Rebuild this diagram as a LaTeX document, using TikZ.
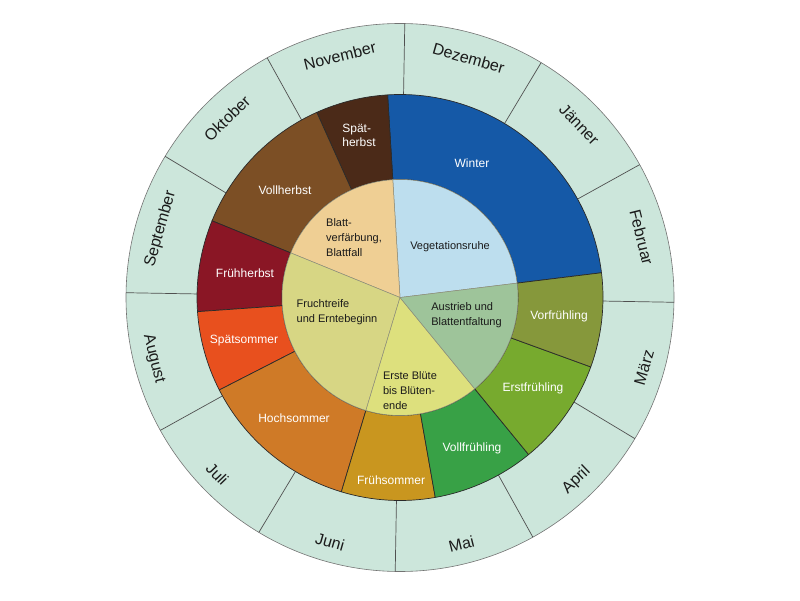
\documentclass[tikz,border=0pt]{standalone}
\usepackage{fontspec}
\setmainfont{Liberation Sans}
\definecolor{mint}{HTML}{CCE6DB}
\definecolor{cwinter}{HTML}{1559A7}
\definecolor{cvegruhe}{HTML}{BDDEEE}
\definecolor{cvorfr}{HTML}{86983B}
\definecolor{cerstfr}{HTML}{77AA2E}
\definecolor{cvollfr}{HTML}{38A146}
\definecolor{caustrieb}{HTML}{9EC49A}
\definecolor{cbluete}{HTML}{DDE07D}
\definecolor{cfruehso}{HTML}{C9961F}
\definecolor{chochso}{HTML}{CF7A27}
\definecolor{cspaetso}{HTML}{E8501E}
\definecolor{cfruehhe}{HTML}{8A1625}
\definecolor{cvollhe}{HTML}{7C4F25}
\definecolor{cspaethe}{HTML}{4B2A18}
\definecolor{cblatt}{HTML}{EFCF94}
\definecolor{cfrucht}{HTML}{D7D684}
\definecolor{txt}{HTML}{1A1A1A}
\definecolor{segline}{HTML}{2A2A2A}
\definecolor{inline}{HTML}{8C8C7A}
\definecolor{mline}{HTML}{505050}
\newcommand{\ringseg}[5]{\filldraw[#1] (#2:#4pt) arc[start angle=#2, end angle=#3, radius=#4pt] -- (#3:#5pt) arc[start angle=#3, end angle=#2, radius=#5pt] -- cycle;}
\newcommand{\pieseg}[4]{\filldraw[#1] (0,0) -- (#2:#4pt) arc[start angle=#2, end angle=#3, radius=#4pt] -- cycle;}
\begin{document}
\begin{tikzpicture}[x=1pt,y=1pt,
  seg/.style={draw=segline, line width=0.7pt, line join=round},
  inseg/.style={draw=inline, line width=0.5pt, line join=round},
  mlabel/.style={font=\fontsize{16}{18}\selectfont, text=txt, inner sep=0pt},
  slabel/.style={font=\fontsize{12}{14}\selectfont, text=white, inner sep=0pt, align=left},
  ilabel/.style={font=\fontsize{11}{15}\selectfont, text=txt, inner sep=0pt, align=left}]
\useasboundingbox (0,0) rectangle (800,600);
\coordinate (C) at (400,302.5);
\begin{scope}[shift={(C)}]
  % month ring
  \filldraw[fill=mint, draw=mline!80, line width=0.6pt] (0,0) circle[radius=274pt];
  \foreach \a in {89,59,29,-1,-31,-61,-91,-121,-151,179,149,119}
    \draw[mline, line width=0.7pt] (\a:203pt) -- (\a:274pt);
  % season ring
  \ringseg{fill=cwinter, seg}{7}{93.5}{118}{203}
  \ringseg{fill=cspaethe, seg}{93.5}{114.2}{118}{203}
  \ringseg{fill=cvollhe, seg}{114.2}{157.8}{118}{203}
  \ringseg{fill=cfruehhe, seg}{157.8}{184}{118}{203}
  \ringseg{fill=cspaetso, seg}{184}{207.1}{118}{203}
  \ringseg{fill=chochso, seg}{207.1}{253.2}{118}{203}
  \ringseg{fill=cfruehso, seg}{253.2}{280}{118}{203}
  \ringseg{fill=cvollfr, seg}{280}{309.3}{118}{203}
  \ringseg{fill=cerstfr, seg}{309.3}{340}{118}{203}
  \ringseg{fill=cvorfr, seg}{340}{367}{118}{203}
  % inner circle
  \pieseg{fill=cvegruhe, inseg}{7}{93.5}{118}
  \pieseg{fill=cblatt, inseg}{93.5}{157.8}{118}
  \pieseg{fill=cfrucht, inseg}{157.8}{253.2}{118}
  \pieseg{fill=cbluete, inseg}{253.2}{309.3}{118}
  \pieseg{fill=caustrieb, inseg}{309.3}{367}{118}
  % month labels
  \node[mlabel, rotate=-16] (mdez) at (74:249pt) {Dezember};
  \node[mlabel, rotate=-46] (mjan) at (44:249pt) {Jänner};
  \node[mlabel, rotate=-76] (mfeb) at (14:249pt) {Februar};
  \node[mlabel, rotate=74] (mmar) at (-16:254pt) {März};
  \node[mlabel, rotate=44] (mapr) at (-46:254pt) {April};
  \node[mlabel, rotate=14] (mmai) at (-76:254pt) {Mai};
  \node[mlabel, rotate=-16] (mjun) at (-106:254pt) {Juni};
  \node[mlabel, rotate=-46] (mjul) at (-136:254pt) {Juli};
  \node[mlabel, rotate=-76] (maug) at (-166:254pt) {August};
  \node[mlabel, rotate=74] (msep) at (164:249pt) {September};
  \node[mlabel, rotate=44] (mokt) at (134:249pt) {Oktober};
  \node[mlabel, rotate=14] (mnov) at (104:249pt) {November};
\end{scope}
% season labels
\node[slabel] (winter) at (472,437) {Winter};
\node[slabel] (spaetherbst) at (359,465) {Spät-\\herbst};
\node[slabel] (vollherbst) at (285,410) {Vollherbst};
\node[slabel] (fruehherbst) at (245,327) {Frühherbst};
\node[slabel] (spaetsommer) at (244,259) {Spätsommer};
\node[slabel] (hochsommer) at (294,182) {Hochsommer};
\node[slabel] (fruehsommer) at (391,120) {Frühsommer};
\node[slabel] (vollfr) at (472,152) {Vollfrühling};
\node[slabel] (erstfr) at (533,212) {Erstfrühling};
\node[slabel] (vorfr) at (559,284) {Vorfrühling};
% inner labels
\node[ilabel] (vegruhe) at (450,353) {Vegetationsruhe};
\node[ilabel] (blatt) at (354,362) {Blatt-\\verfärbung,\\Blattfall};
\node[ilabel] (frucht) at (337,288) {Fruchtreife\\und Erntebeginn};
\node[ilabel] (bluete) at (410,209) {Erste Blüte\\bis Blüten-\\ende};
\node[ilabel] (austrieb) at (466.5,285) {Austrieb und\\Blattentfaltung};
\end{tikzpicture}
\end{document}
